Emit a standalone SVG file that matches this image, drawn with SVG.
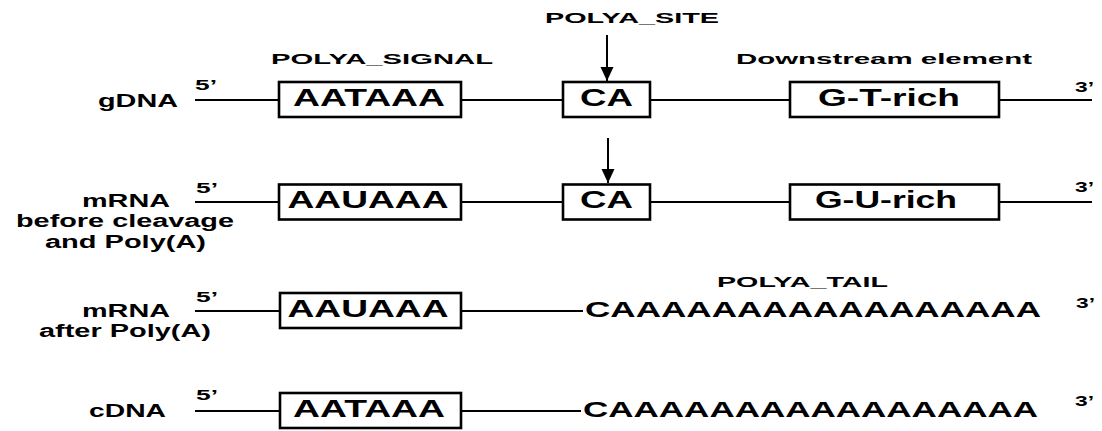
<svg xmlns="http://www.w3.org/2000/svg" width="1102" height="431" viewBox="0 0 1102 431">
<defs>
<style>
text{font-family:"Liberation Sans",Arial,sans-serif;font-weight:bold;fill:#000}
.lbl{font-size:17.5px}
.end{font-size:14px}
.ann{font-size:15px}
.bt{font-size:23px}
.tail{font-size:22.5px}
.box{fill:#fff;stroke:#000;stroke-width:2.6}
.ln{stroke:#000;stroke-width:2.2;fill:none}
.arr{stroke:#000;stroke-width:2;fill:none;marker-end:url(#ah)}
</style>
<marker id="ah" markerUnits="userSpaceOnUse" markerWidth="16" markerHeight="14" refX="14" refY="6.5" orient="auto">
<polygon points="0,0 14,6.5 0,13" fill="#000"/>
</marker>
</defs>
<rect width="1102" height="431" fill="#fff"/>

<g id="connectors">
<line class="ln" x1="195" y1="100" x2="279" y2="100"/>
<line class="ln" x1="461" y1="100" x2="563" y2="100"/>
<line class="ln" x1="650" y1="100" x2="790" y2="100"/>
<line class="ln" x1="999" y1="100" x2="1092" y2="100"/>
<line class="ln" x1="195" y1="202" x2="279" y2="202"/>
<line class="ln" x1="461" y1="202" x2="563" y2="202"/>
<line class="ln" x1="650" y1="202" x2="790" y2="202"/>
<line class="ln" x1="999" y1="202" x2="1092" y2="202"/>
<line class="ln" x1="195" y1="311" x2="279" y2="311"/>
<line class="ln" x1="461" y1="311" x2="583" y2="311"/>
<line class="ln" x1="195" y1="411" x2="279" y2="411"/>
<line class="ln" x1="461" y1="411" x2="581" y2="411"/>
<line class="arr" x1="607" y1="35" x2="607" y2="81"/>
<line class="arr" x1="608" y1="138" x2="608" y2="183"/>
</g>

<g id="row-labels">
<text class="lbl" x="98" y="107" textLength="80" lengthAdjust="spacingAndGlyphs">gDNA</text>
<text class="lbl" x="82" y="207" textLength="88" lengthAdjust="spacingAndGlyphs">mRNA</text>
<text class="lbl" x="16" y="227" textLength="218" lengthAdjust="spacingAndGlyphs">before cleavage</text>
<text class="lbl" x="45" y="248" textLength="161" lengthAdjust="spacingAndGlyphs">and Poly(A)</text>
<text class="lbl" x="82" y="317" textLength="88" lengthAdjust="spacingAndGlyphs">mRNA</text>
<text class="lbl" x="39" y="337" textLength="172" lengthAdjust="spacingAndGlyphs">after Poly(A)</text>
<text class="lbl" x="89" y="417" textLength="77" lengthAdjust="spacingAndGlyphs">cDNA</text>
</g>

<g id="ends">
<text class="end" x="195" y="90" textLength="22" lengthAdjust="spacingAndGlyphs">5’</text>
<text class="end" x="1075" y="92" textLength="19" lengthAdjust="spacingAndGlyphs">3’</text>
<text class="end" x="196" y="193" textLength="22" lengthAdjust="spacingAndGlyphs">5’</text>
<text class="end" x="1075" y="192" textLength="19" lengthAdjust="spacingAndGlyphs">3’</text>
<text class="end" x="196" y="302" textLength="22" lengthAdjust="spacingAndGlyphs">5’</text>
<text class="end" x="1076" y="308" textLength="19" lengthAdjust="spacingAndGlyphs">3’</text>
<text class="end" x="196" y="400" textLength="22" lengthAdjust="spacingAndGlyphs">5’</text>
<text class="end" x="1075" y="406" textLength="19" lengthAdjust="spacingAndGlyphs">3’</text>
</g>

<g id="annotations">
<text class="ann" x="545" y="23" textLength="174" lengthAdjust="spacingAndGlyphs">POLYA_SITE</text>
<text class="ann" x="271" y="64" textLength="222" lengthAdjust="spacingAndGlyphs">POLYA_SIGNAL</text>
<text class="ann" x="736" y="64" textLength="296" lengthAdjust="spacingAndGlyphs">Downstream element</text>
<text class="ann" x="717" y="287" textLength="171" lengthAdjust="spacingAndGlyphs">POLYA_TAIL</text>
</g>

<g id="gdna-signal"><rect class="box" x="279" y="82" width="182" height="35"/><text class="bt" x="293" y="106" textLength="152" lengthAdjust="spacingAndGlyphs">AATAAA</text></g>
<g id="gdna-site"><rect class="box" x="563" y="82" width="87" height="35"/><text class="bt" x="580" y="106" textLength="53" lengthAdjust="spacingAndGlyphs">CA</text></g>
<g id="gdna-downstream"><rect class="box" x="790" y="82" width="209" height="35"/><text class="bt" x="818" y="106" textLength="142" lengthAdjust="spacingAndGlyphs">G-T-rich</text></g>

<g id="mrna1-signal"><rect class="box" x="279" y="184.5" width="182" height="35"/><text class="bt" x="287.5" y="208" textLength="161" lengthAdjust="spacingAndGlyphs">AAUAAA</text></g>
<g id="mrna1-site"><rect class="box" x="563" y="184.5" width="87" height="35"/><text class="bt" x="580" y="208" textLength="53" lengthAdjust="spacingAndGlyphs">CA</text></g>
<g id="mrna1-downstream"><rect class="box" x="790" y="184.5" width="209" height="35"/><text class="bt" x="815" y="208" textLength="142" lengthAdjust="spacingAndGlyphs">G-U-rich</text></g>

<g id="mrna2-signal"><rect class="box" x="280" y="293" width="181" height="35"/><text class="bt" x="287.5" y="317" textLength="161" lengthAdjust="spacingAndGlyphs">AAUAAA</text></g>
<g id="mrna2-tail"><text class="tail" x="585" y="317" textLength="456" lengthAdjust="spacingAndGlyphs">CAAAAAAAAAAAAAAAAA</text></g>

<g id="cdna-signal"><rect class="box" x="280" y="393" width="181" height="35"/><text class="bt" x="293" y="417" textLength="152" lengthAdjust="spacingAndGlyphs">AATAAA</text></g>
<g id="cdna-tail"><text class="tail" x="583" y="417" textLength="455" lengthAdjust="spacingAndGlyphs">CAAAAAAAAAAAAAAAAA</text></g>
</svg>
